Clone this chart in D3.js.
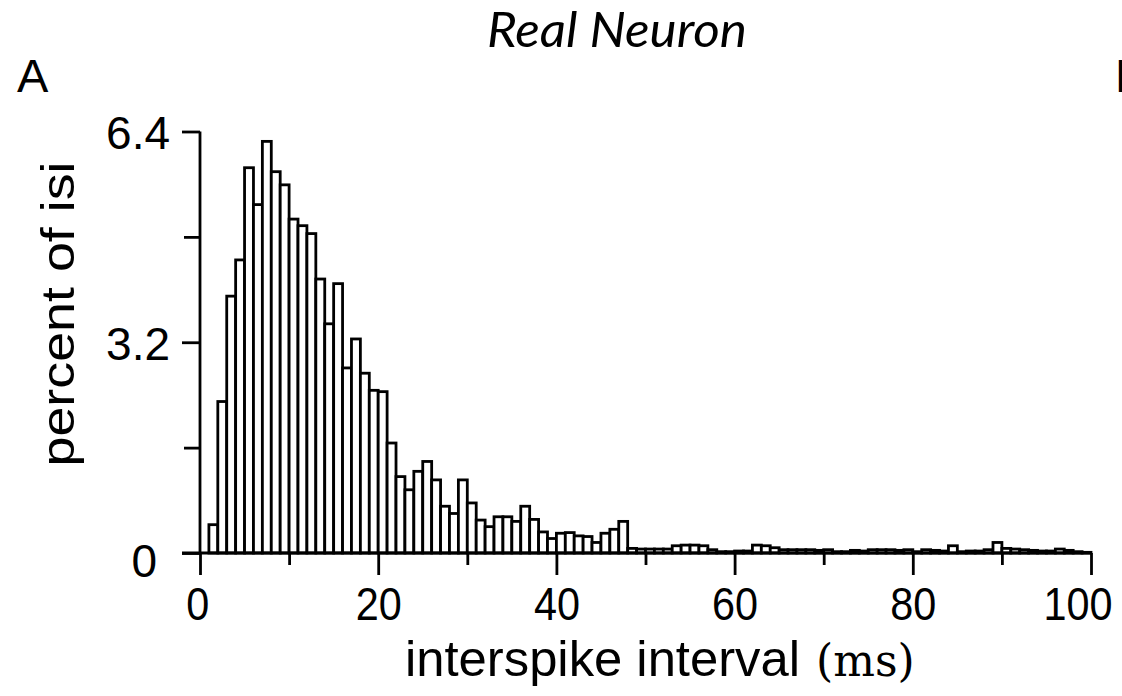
<!DOCTYPE html>
<html>
<head>
<meta charset="utf-8">
<script src="https://cdn.jsdelivr.net/npm/d3@7"></script>
<style>
  html, body { margin: 0; padding: 0; background: #fff; }
  svg { display: block; }
  .lbl { font-family: "Liberation Sans", Arial, sans-serif; fill: #000; }
</style>
</head>
<body>
<div id="chart"></div>
<script>
// bin start (ms), each bin is 1 ms wide
var binStart = [1,2,3,4,5,6,7,8,9,10,11,12,13,14,15,16,17,18,19,20,
    21,22,23,24,25,26,27,28,29,30,31,32,33,34,35,36,37,38,39,40,
    41,42,43,44,45,46,47,48,49,50,51,52,53,54,55,56,57,58,59,60,
    61,62,63,64,65,66,67,68,69,70,71,72,73,74,75,76,77,78,79,80,
    81,82,83,84,85,86,87,88,89,90,91,92,93,94,95,96,97,98,99];

// percent of isi in each bin
var percentIsi = [0.43,2.30,3.90,4.45,5.85,5.29,6.25,5.79,5.59,5.07,
    4.97,4.85,4.16,3.48,4.09,2.81,3.25,2.73,2.47,2.45,
    1.67,1.16,0.96,1.24,1.39,1.11,0.71,0.60,1.11,0.76,
    0.50,0.40,0.55,0.55,0.48,0.71,0.51,0.32,0.22,0.30,
    0.31,0.26,0.25,0.16,0.30,0.36,0.48,0.07,0.06,0.06,
    0.06,0.06,0.11,0.12,0.12,0.11,0.05,0.02,0.02,0.03,
    0.03,0.12,0.11,0.08,0.05,0.05,0.05,0.05,0.04,0.05,
    0.02,0.02,0.04,0.03,0.05,0.05,0.05,0.04,0.05,0.02,
    0.05,0.04,0.03,0.11,0.02,0.03,0.03,0.05,0.16,0.07,
    0.06,0.05,0.04,0.03,0.03,0.06,0.04,0.02,0.01];

var xMajor = [0, 20, 40, 60, 80, 100];
var xMinor = [10, 30, 50, 70, 90];
var yMajor = [0, 3.2, 6.4];
var yMinor = [1.6, 4.8];

var width = 1122, height = 696;

var svg = d3.select("#chart").append("svg")
    .attr("width", width)
    .attr("height", height);

svg.append("rect").attr("width", width).attr("height", height).attr("fill", "#fff");

var x = d3.scaleLinear().domain([0, 100]).range([200, 1091]);
var y = d3.scaleLinear().domain([0, 6.4]).range([553, 131.5]);

// title + panel letters
svg.append("text")
    .attr("x", 617).attr("y", 47)
    .attr("text-anchor", "middle")
    .style("font-family", "Lato, 'Open Sans', sans-serif")
    .style("font-style", "italic")
    .style("font-size", "48px")
    .attr("textLength", 260)
    .attr("lengthAdjust", "spacingAndGlyphs")
    .text("Real Neuron");

svg.append("text").attr("class", "lbl")
    .attr("x", 17).attr("y", 92)
    .style("font-size", "47px")
    .text("A");

// next panel's letter, cut by the right edge as in the figure
svg.append("text").attr("class", "lbl")
    .attr("x", 1115).attr("y", 92)
    .style("font-size", "47px")
    .text("B");

// bars
var bins = binStart.map(function (d, i) { return { start: d, value: percentIsi[i] }; });

svg.append("g")
    .selectAll("rect")
    .data(bins)
    .enter().append("rect")
    .attr("x", function (d) { return x(d.start); })
    .attr("width", function (d) { return x(d.start + 1) - x(d.start); })
    .attr("y", function (d) { return y(d.value); })
    .attr("height", function (d) { return y(0) - y(d.value); })
    .attr("fill", "#fff")
    .attr("stroke", "#000")
    .attr("stroke-width", 2.8);

// x axis
var xAxis = svg.append("g")
    .attr("transform", "translate(0," + y(0) + ")")
    .call(d3.axisBottom(x).tickValues(xMajor).tickSize(22).tickPadding(12)
        .tickFormat(function (d) { return d; }));
svg.append("g")
    .attr("transform", "translate(0," + y(0) + ")")
    .call(d3.axisBottom(x).tickValues(xMinor).tickSize(12).tickFormat(""))
    .select(".domain").remove();

xAxis.select(".domain").attr("d", "M" + (x(0) - 18) + ",0H" + x(100));
xAxis.selectAll("text").attr("class", "lbl")
    .style("font-size", "46px")
    .attr("x", function (d) { return d === 100 ? -15 : (d === 0 ? -3 : 0); })
    .attr("transform", "scale(0.9,1)");

// y axis
var yAxis = svg.append("g")
    .attr("transform", "translate(" + x(0) + ",0)")
    .call(d3.axisLeft(y).tickValues(yMajor).tickSize(18).tickPadding(12)
        .tickFormat(function (d) { return d === 0 ? "0" : d.toFixed(1); }));
svg.append("g")
    .attr("transform", "translate(" + x(0) + ",0)")
    .call(d3.axisLeft(y).tickValues(yMinor).tickSize(16).tickFormat(""))
    .select(".domain").remove();

yAxis.selectAll("text").attr("class", "lbl")
    .style("font-size", "46px")
    .attr("x", function (d) { return d === 0 ? -43 : -30; })
    .attr("dy", function (d) { return d === 0 ? "0.5em" : "0.38em"; });

svg.selectAll(".domain, .tick line")
    .attr("stroke", "#000")
    .attr("stroke-width", 2.8);
yAxis.select(".domain").attr("d", "M0," + y(0) + "V" + y(6.4));

// axis titles
svg.append("text").attr("class", "lbl")
    .attr("transform", "translate(74," + 314 + ") rotate(-90)")
    .attr("text-anchor", "middle")
    .style("font-size", "46px")
    .attr("textLength", 305)
    .attr("lengthAdjust", "spacingAndGlyphs")
    .text("percent of isi");

var xt = svg.append("text")
    .attr("x", 405).attr("y", 676)
    .style("font-size", "50px");
xt.append("tspan")
    .style("font-family", "'Liberation Sans', Arial, sans-serif")
    .attr("textLength", 395)
    .attr("lengthAdjust", "spacingAndGlyphs")
    .text("interspike interval");
xt.append("tspan")
    .attr("dx", 16)
    .style("font-family", "'DejaVu Serif', 'Liberation Serif', serif")
    .style("font-size", "44px")
    .text("(ms)");
</script>
</body>
</html>
